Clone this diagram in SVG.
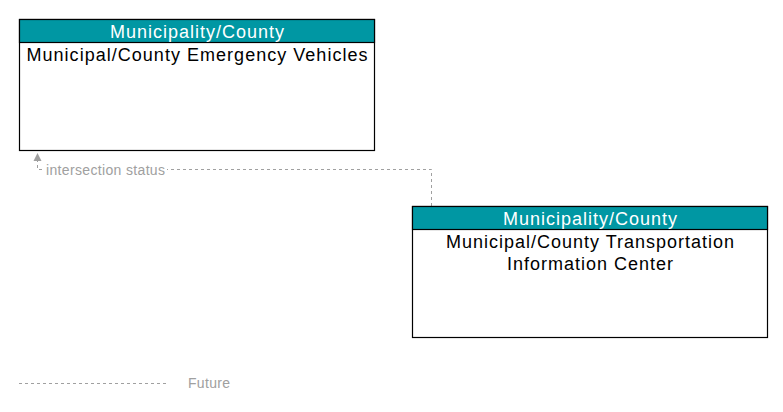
<svg xmlns="http://www.w3.org/2000/svg" width="783" height="412" viewBox="0 0 783 412">
<style>
.box{fill:#fff;stroke:#000;stroke-width:1.2}
.hdr{fill:#0097A3;stroke:#000;stroke-width:1.2}
.ht{font-family:"Liberation Sans",Arial,sans-serif;font-size:18px;fill:#fff;text-anchor:middle}
.bt{font-family:"Liberation Sans",Arial,sans-serif;font-size:18px;fill:#000;text-anchor:middle}
.flow{fill:none;stroke:#a0a0a0;stroke-width:1;stroke-dasharray:3,3}
.lbl{font-family:"Liberation Sans",Arial,sans-serif;font-size:14px;fill:#a0a0a0}
</style>
<defs>
<marker id="arr" markerWidth="10" markerHeight="10" refX="5" refY="5" orient="auto" markerUnits="userSpaceOnUse">
<path d="M1,1 L9,5 L1,9 Z" fill="#a0a0a0"/>
</marker>
</defs>
<g id="connectors">
<path class="flow" d="M431.5,206 V169.5 H37.5 V157" marker-end="url(#arr)"/>
<rect x="44" y="162" width="123" height="15" fill="#fff"/>
<text class="lbl" x="46" y="175" textLength="119" lengthAdjust="spacing">intersection status</text>
</g>
<g id="node-emergency">
<rect class="box" x="19.5" y="19.5" width="355" height="131"/>
<rect class="hdr" x="19.5" y="19.5" width="355" height="23"/>
<text class="ht" x="197" y="37.5" textLength="174" lengthAdjust="spacing">Municipality/County</text>
<text class="bt" x="197" y="60.5" textLength="341" lengthAdjust="spacing">Municipal/County Emergency Vehicles</text>
</g>
<g id="node-tic">
<rect class="box" x="412.5" y="206.5" width="355" height="131"/>
<rect class="hdr" x="412.5" y="206.5" width="355" height="23"/>
<text class="ht" x="590" y="224.5" textLength="174" lengthAdjust="spacing">Municipality/County</text>
<text class="bt" x="590" y="247.5" textLength="288" lengthAdjust="spacing">Municipal/County Transportation</text>
<text class="bt" x="590" y="269.5" textLength="166" lengthAdjust="spacing">Information Center</text>
</g>
<g id="legend">
<line class="flow" x1="19" y1="383.5" x2="166" y2="383.5"/>
<text class="lbl" x="188" y="388" textLength="42" lengthAdjust="spacing">Future</text>
</g>
</svg>
